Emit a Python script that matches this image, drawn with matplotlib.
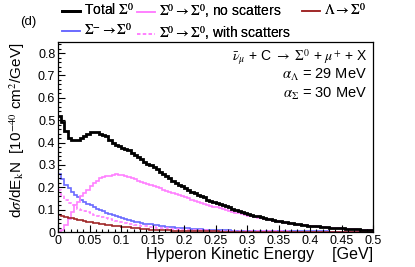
import numpy as np
import matplotlib
matplotlib.use('Agg')
import matplotlib.pyplot as plt
from matplotlib.ticker import MultipleLocator, FuncFormatter

plt.rcParams['font.family'] = ['Liberation Sans', 'DejaVu Sans']
plt.rcParams['mathtext.fontset'] = 'stix'

# histogram bins: 0 - 0.5 GeV, 100 bins
edges = np.linspace(0, 0.5, 101)

total = [0.52, 0.49, 0.45, 0.42, 0.41, 0.41, 0.41, 0.42, 0.43, 0.44,
         0.445, 0.445, 0.445, 0.44, 0.435, 0.43, 0.41, 0.40, 0.39, 0.385,
         0.375, 0.37, 0.365, 0.355, 0.345, 0.335, 0.325, 0.315, 0.305, 0.30,
         0.29, 0.28, 0.27, 0.26, 0.25, 0.24, 0.23, 0.22, 0.21, 0.205,
         0.195, 0.19, 0.18, 0.175, 0.165, 0.16, 0.155, 0.145, 0.14, 0.135,
         0.13, 0.125, 0.12, 0.115, 0.11, 0.105, 0.10, 0.095, 0.09, 0.085,
         0.08, 0.077, 0.073, 0.07, 0.066, 0.063, 0.06, 0.057, 0.054, 0.051,
         0.048, 0.046, 0.043, 0.041, 0.039, 0.037, 0.035, 0.033, 0.031, 0.029,
         0.028, 0.026, 0.025, 0.023, 0.022, 0.021, 0.020, 0.019, 0.018, 0.017,
         0.016, 0.015, 0.014, 0.013, 0.013, 0.012, 0.011, 0.011, 0.010, 0.010]

no_scat = [0.0, 0.01, 0.03, 0.06, 0.09, 0.12, 0.135, 0.16, 0.175, 0.19,
           0.205, 0.22, 0.23, 0.24, 0.245, 0.25, 0.25, 0.255, 0.26, 0.255,
           0.255, 0.25, 0.245, 0.24, 0.235, 0.23, 0.225, 0.22, 0.215, 0.21,
           0.205, 0.20, 0.195, 0.19, 0.185, 0.18, 0.175, 0.17, 0.165, 0.16,
           0.155, 0.15, 0.145, 0.14, 0.135, 0.13, 0.125, 0.12, 0.117, 0.113,
           0.11, 0.106, 0.102, 0.098, 0.094, 0.09, 0.087, 0.083, 0.08, 0.077,
           0.073, 0.07, 0.067, 0.064, 0.061, 0.058, 0.056, 0.053, 0.051, 0.048,
           0.046, 0.044, 0.041, 0.039, 0.037, 0.035, 0.033, 0.031, 0.030, 0.028,
           0.027, 0.025, 0.024, 0.022, 0.021, 0.020, 0.019, 0.018, 0.017, 0.016,
           0.015, 0.014, 0.013, 0.013, 0.012, 0.011, 0.011, 0.010, 0.010, 0.009]

sigma_minus = [0.26, 0.235, 0.21, 0.195, 0.18, 0.165, 0.155, 0.145, 0.135, 0.127,
               0.12, 0.112, 0.105, 0.098, 0.092, 0.086, 0.08, 0.075, 0.07, 0.065,
               0.061, 0.057, 0.053, 0.05, 0.047, 0.044, 0.041, 0.038, 0.036, 0.034,
               0.032, 0.030, 0.028, 0.026, 0.024, 0.023, 0.021, 0.020, 0.019, 0.018,
               0.017, 0.016, 0.015, 0.014, 0.013, 0.012, 0.011, 0.011, 0.010, 0.009,
               0.009, 0.008, 0.008, 0.007, 0.007, 0.006, 0.006, 0.006, 0.005, 0.005,
               0.005, 0.005, 0.005, 0.004, 0.004, 0.004, 0.004, 0.004, 0.004, 0.004,
               0.003, 0.003, 0.003, 0.003, 0.003, 0.003, 0.003, 0.003, 0.003, 0.003,
               0.003, 0.003, 0.003, 0.003, 0.003, 0.003, 0.002, 0.002, 0.002, 0.002,
               0.002, 0.002, 0.002, 0.002, 0.002, 0.002, 0.002, 0.002, 0.002, 0.002]

with_scat = [0.19, 0.165, 0.145, 0.13, 0.12, 0.112, 0.105, 0.099, 0.093, 0.088,
             0.083, 0.078, 0.073, 0.069, 0.065, 0.061, 0.057, 0.053, 0.05, 0.047,
             0.044, 0.041, 0.038, 0.036, 0.033, 0.031, 0.029, 0.027, 0.025, 0.023,
             0.021, 0.020, 0.018, 0.017, 0.016, 0.015, 0.014, 0.013, 0.012, 0.011,
             0.010, 0.010, 0.009, 0.009, 0.008, 0.008, 0.007, 0.007, 0.006, 0.006,
             0.006, 0.005, 0.005, 0.005, 0.005, 0.004, 0.004, 0.004, 0.004, 0.004,
             0.003, 0.003, 0.003, 0.003, 0.003, 0.003, 0.003, 0.003, 0.003, 0.003,
             0.003, 0.003, 0.003, 0.003, 0.002, 0.002, 0.002, 0.002, 0.002, 0.002,
             0.002, 0.002, 0.002, 0.002, 0.002, 0.002, 0.002, 0.002, 0.002, 0.002,
             0.002, 0.002, 0.002, 0.002, 0.001, 0.001, 0.001, 0.001, 0.001, 0.001]

lam = [0.075, 0.071, 0.067, 0.064, 0.061, 0.058, 0.055, 0.052, 0.05, 0.047,
       0.044, 0.042, 0.04, 0.037, 0.035, 0.033, 0.031, 0.029, 0.027, 0.025,
       0.024, 0.022, 0.021, 0.019, 0.018, 0.016, 0.015, 0.014, 0.012, 0.011,
       0.010, 0.009, 0.009, 0.008, 0.007, 0.007, 0.006, 0.006, 0.005, 0.005,
       0.005, 0.004, 0.004, 0.004, 0.004, 0.003, 0.003, 0.003, 0.003, 0.003,
       0.003, 0.002, 0.002, 0.002, 0.002, 0.002, 0.002, 0.002, 0.002, 0.002,
       0.002, 0.002, 0.002, 0.002, 0.002, 0.002, 0.002, 0.002, 0.002, 0.002,
       0.001, 0.001, 0.001, 0.001, 0.001, 0.001, 0.001, 0.001, 0.001, 0.001,
       0.001, 0.001, 0.001, 0.001, 0.001, 0.001, 0.001, 0.001, 0.001, 0.001,
       0.001, 0.001, 0.001, 0.001, 0.001, 0.001, 0.001, 0.001, 0.001, 0.001]

S0 = '$\\Sigma^{0}$'
S0S0 = '$\\Sigma^{0}\\rightarrow\\Sigma^{0}$'

fig = plt.figure(figsize=(4.15, 2.67), dpi=100)
ax = fig.add_axes([0.14, 0.131, 0.759, 0.712])

h_tot = ax.stairs(total, edges, baseline=None, color='black', lw=2, zorder=5,
                  label='Total ' + S0)
h_sm = ax.stairs(sigma_minus, edges, baseline=None, color='#6a6aff', lw=1.2,
                 label='$\\Sigma^{-}\\rightarrow\\Sigma^{0}$')
h_ns = ax.stairs(no_scat, edges, baseline=None, color='#ff80ff', lw=1.2,
                 label=S0S0 + ', no scatters')
h_ws = ax.stairs(with_scat, edges, baseline=None, color='#ff80ff', lw=1.2,
                 linestyle=(0, (2, 1.5)),
                 label=S0S0 + ', with scatters')
h_l = ax.stairs(lam, edges, baseline=None, color='#a02828', lw=1.2,
                label='$\\Lambda\\rightarrow\\Sigma^{0}$')

ax.set_xlim(0, 0.5)
ax.set_ylim(0, 0.85)
ax.xaxis.set_major_locator(MultipleLocator(0.05))
ax.xaxis.set_minor_locator(MultipleLocator(0.01))
ax.yaxis.set_major_locator(MultipleLocator(0.1))
ax.yaxis.set_minor_locator(MultipleLocator(0.02))
fmt = FuncFormatter(lambda v, p: '%g' % round(v, 3))
ax.xaxis.set_major_formatter(fmt)
ax.yaxis.set_major_formatter(fmt)
ax.tick_params(which='both', direction='in', top=False, right=False, labelsize=9, pad=2)
ax.tick_params(which='major', length=5, width=0.8)
ax.tick_params(which='minor', length=2.5, width=0.8)
for s in ax.spines.values():
    s.set_linewidth(0.9)

ax.set_xlabel('Hyperon Kinetic Energy    [GeV]', loc='right', fontsize=11.5)
ax.xaxis.set_label_coords(1.0, -0.08)
ax.set_ylabel('d$\\sigma$/dE$_{\\mathrm{k}}$N  [10$^{-40}$ cm$^{2}$/GeV]',
              loc='top', fontsize=11)
ax.yaxis.set_label_coords(-0.1, 1.0)

ax.text(0.981, 0.92, '$\\bar{\\nu}_{\\mu}$ + C $\\rightarrow$ ' + S0 + ' + $\\mu^{+}$ + X',
        transform=ax.transAxes, ha='right', va='center', fontsize=10)
ax.text(0.981, 0.826, '$\\alpha_{\\Lambda}$ = 29 MeV', transform=ax.transAxes,
        ha='right', va='center', fontsize=10.5)
ax.text(0.981, 0.726, '$\\alpha_{\\Sigma}$ = 30 MeV', transform=ax.transAxes,
        ha='right', va='center', fontsize=10.5)

fig.text(20 / 415, 1 - 22 / 267, '(d)', fontsize=9.5, va='center')

# legend in three columns placed like the original
leg_kw = dict(frameon=False, loc='upper left', fontsize=10, handlelength=1.3,
              handletextpad=0.3, labelspacing=0.3, borderpad=0, borderaxespad=0)
for handles, x0 in [([h_tot, h_sm], 62), ([h_ns, h_ws], 137), ([h_l], 302)]:
    fig.add_artist(fig.legend(handles=handles, bbox_to_anchor=(x0 / 415, 0.99), **leg_kw))

fig.savefig('out.png', dpi=100)
